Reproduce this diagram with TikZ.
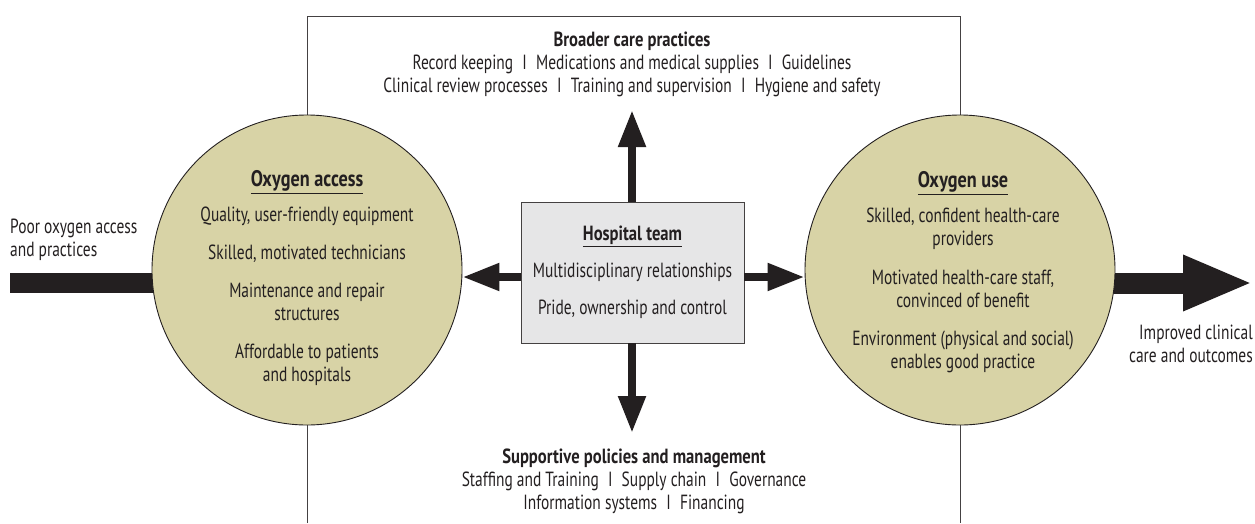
\documentclass[tikz,border=0pt]{standalone}
\usepackage{fontspec}
\setmainfont{PT Sans}[FakeStretch=0.753,BoldFeatures={FakeStretch=0.81}]
\usetikzlibrary{arrows.meta}
\definecolor{khaki}{RGB}{216,211,166}
\definecolor{boxgrey}{RGB}{230,230,231}
\definecolor{ink}{RGB}{35,31,32}
\newcommand\sepbar{\hspace{0.45em}I\hspace{0.45em}}
\newcommand\heading[1]{{\fontsize{22.5}{23}\selectfont\underline{\textbf{#1}}}}

\begin{document}
\begin{tikzpicture}
[x=1pt,y=-1pt,
 every node/.style={inner sep=0pt,align=center,text=ink,
   font=\fontsize{20.5}{23}\selectfont},
 factor/.style={circle,draw=ink,line width=0.9pt,fill=khaki,minimum size=310pt},
 team/.style={draw=ink!85,line width=0.9pt,fill=boxgrey,
   minimum width=223pt,minimum height=141pt},
 thin arrow/.style={ink,line width=8pt,-{Triangle[length=37pt,width=26pt]}},
 big arrow/.style={ink,line width=21pt,-{Triangle[length=70pt,width=51pt]}}]
\useasboundingbox (0,0) rectangle (1255,523);
\coordinate (in) at (10,283);
\coordinate (out) at (1253,283);
\coordinate (mid) at (632,277);
\coordinate (upper) at (632,110);
\coordinate (lower) at (632,433);
% open frame behind the circles
\draw[ink!85,line width=0.8pt] (307,523) -- (307,16) -- (960,16) -- (960,523);
\draw[ink,line width=20pt] (in) -- (in -| 307,0);
\draw[big arrow] (out -| 960,0) -- (out);
\node[factor] (access) at (307,270) {};
\node[factor] (use) at (960,270) {};
\node[team] (team) at (632.5,272.5) {};
% arrows out of the hospital team
\draw[thin arrow] (mid -| team.west) -- (mid -| access.east);
\draw[thin arrow] (mid -| team.east) -- (mid -| use.west);
\draw[thin arrow] (team.north -| upper) -- (upper);
\draw[thin arrow] (team.south -| lower) -- (lower);
% texts
\node (accesstext) at (307,278.5) {\heading{Oxygen access}\\[12pt]
  Quality, user-friendly equipment\\[15pt]
  Skilled, motivated technicians\\[15pt]
  Maintenance and repair\\structures\\[15pt]
  Affordable to patients\\and hospitals};
\node (usetext) at (963,272.5) {\heading{Oxygen use}\\[12pt]
  Skilled, confident health-care\\providers\\[16pt]
  Motivated health-care staff,\\convinced of benefit\\[15pt]
  Environment (physical and social)\\enables good practice};
\node (teamtext) at (team.center) {\underline{\textbf{Hospital team}}\\[14pt]
  Multidisciplinary relationships\\[14pt]
  Pride, ownership and control};
\node (broader) at (632,64) {\textbf{Broader care practices}\\
  Record keeping\sepbar Medications and medical supplies\sepbar Guidelines\\
  Clinical review processes\sepbar Training and supervision\sepbar Hygiene and safety};
\node (support) at (634,481) {\textbf{Supportive policies and management}\\
  Staffing and Training\sepbar Supply chain\sepbar Governance\\
  Information systems\sepbar Financing};
\node[anchor=west,align=left] (poor) at (10,240) {Poor oxygen access\\and practices};
\node[anchor=east,align=right] (improved) at (1253,344) {Improved clinical\\care and outcomes};
\end{tikzpicture}
\end{document}
